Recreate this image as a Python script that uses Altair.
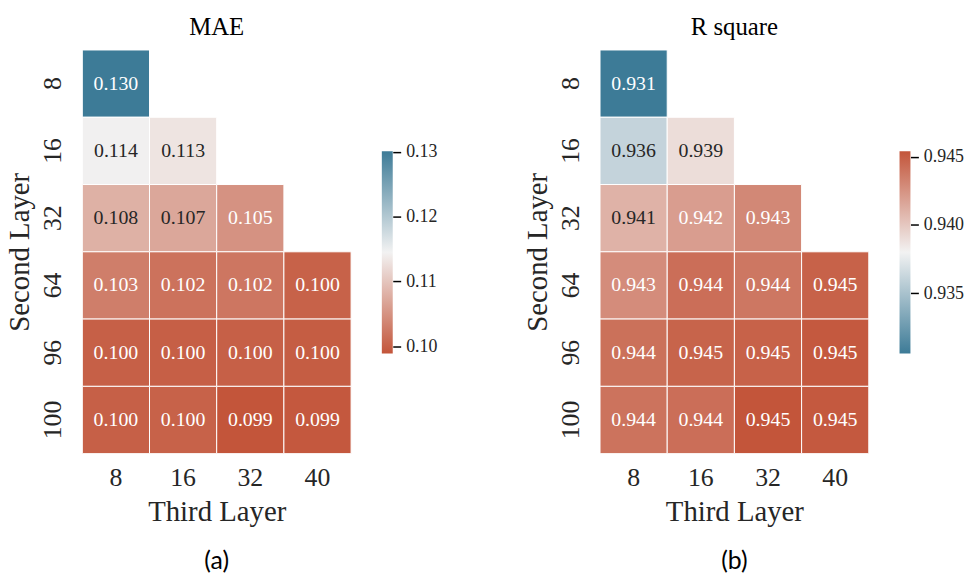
import altair as alt
import pandas as pd

# ---------------- data ----------------
third_layer = [8, 16, 32, 40]
second_layer = [8, 16, 32, 64, 96, 100]

mae_rows = [
    [0.1301],
    [0.1143, 0.1131],
    [0.1080, 0.1070, 0.1050],
    [0.1030, 0.1018, 0.1022, 0.1002],
    [0.1000, 0.0999, 0.1000, 0.0997],
    [0.1000, 0.1002, 0.0989, 0.0992],
]
r2_rows = [
    [0.9306],
    [0.9361, 0.9390],
    [0.9410, 0.9420, 0.9430],
    [0.9428, 0.9442, 0.9438, 0.9448],
    [0.9441, 0.9447, 0.9448, 0.9452],
    [0.9440, 0.9442, 0.9454, 0.9452],
]
mae_ticks = [0.10, 0.11, 0.12, 0.13]
r2_ticks = [0.935, 0.940, 0.945]
mae_extent = [0.0989, 0.1301]
r2_extent = [0.9306, 0.9454]
titles = ["MAE", "R square"]
panel_labels = ["(a)", "(b)"]
x_title = "Third Layer"
y_title = "Second Layer"

# ---------------- style ----------------
SERIF = "Liberation Serif"
SANS = "Lato"
BLUE = "#3d7b97"
RED = "#c3553a"
MID = "#f2f2f2"
DARK = "#262626"
W, H = 271, 407
CB_W = 11
CB_TOP, CB_BOTTOM = 102, 306


def table(rows, field):
    recs = []
    for s, row in zip(second_layer, rows):
        for t, v in zip(third_layer, row):
            recs.append({"second": s, "third": t, field: v})
    return pd.DataFrame(recs)


def heatmap(df, field, title, ext, colors, dark_lo, dark_hi, label):
    mid = (ext[0] + ext[1]) / 2
    cscale = alt.Scale(domain=ext, domainMid=mid, range=colors, interpolate="rgb",
                       nice=False, zero=False)
    base = alt.Chart(df).encode(
        x=alt.X("third:O", sort=third_layer, title=x_title,
                axis=alt.Axis(labelAngle=0, ticks=False, domain=False, labelPadding=11,
                              labelFont=SERIF, labelFontSize=26, labelColor=DARK,
                              titleFont=SERIF, titleFontSize=29, titleFontWeight="normal",
                              titleColor=DARK, titlePadding=7)),
        y=alt.Y("second:O", sort=second_layer, title=y_title,
                axis=alt.Axis(labelAngle=270, labelAlign="center", labelBaseline="alphabetic",
                              ticks=False, domain=False, labelPadding=22,
                              labelFont=SERIF, labelFontSize=26, labelColor=DARK,
                              titleFont=SERIF, titleFontSize=29, titleFontWeight="normal",
                              titleColor=DARK, titlePadding=5)),
    )
    rect = base.mark_rect(stroke="white", strokeWidth=1).encode(
        color=alt.Color(f"{field}:Q", scale=cscale, legend=None)
    )
    text = base.mark_text(font=SERIF, fontSize=20).encode(
        text=alt.Text(f"{field}:Q", format=".3f"),
        color=alt.condition(f"datum.{field} > {dark_lo} && datum.{field} < {dark_hi}",
                            alt.value(DARK), alt.value("white")),
    )
    cap = alt.Chart(pd.DataFrame({"t": [label]})).mark_text(
        font=SANS, fontSize=25, baseline="alphabetic", color="black"
    ).encode(text="t:N", x=alt.value(W / 2), y=alt.value(H + 116))
    return alt.layer(rect, text, cap).properties(
        width=W, height=H,
        title=alt.TitleParams(title, font=SERIF, fontSize=25, fontWeight="normal",
                              color="black", offset=10),
    )


def colorbar(ext, ticks, fmt, bottom_color, top_color):
    grad = alt.LinearGradient(
        gradient="linear", x1=0, x2=0, y1=1, y2=0,
        stops=[alt.GradientStop(offset=0, color=bottom_color),
               alt.GradientStop(offset=0.5, color=MID),
               alt.GradientStop(offset=1, color=top_color)],
    )
    df = pd.DataFrame({"lo": [ext[0]], "hi": [ext[1]]})
    return alt.Chart(df).mark_rect(color=grad).encode(
        y=alt.Y("lo:Q", title=None,
                scale=alt.Scale(domain=ext, range=[CB_BOTTOM, CB_TOP], nice=False, zero=False),
                axis=alt.Axis(orient="right", values=ticks, format=fmt, grid=False, domain=False,
                              tickColor="black", tickSize=8, tickWidth=1.5, labelPadding=5,
                              labelFont=SERIF, labelFontSize=18, labelColor=DARK)),
        y2="hi:Q",
    ).properties(width=CB_W, height=H)


mae_df = table(mae_rows, "mae")
r2_df = table(r2_rows, "r2")

left = alt.hconcat(
    heatmap(mae_df, "mae", titles[0], mae_extent, [RED, MID, BLUE], 0.1055, 0.1205, panel_labels[0]),
    colorbar(mae_extent, mae_ticks, ".2f", RED, BLUE),
    spacing=30,
).resolve_scale(color="independent", y="independent")
right = alt.hconcat(
    heatmap(r2_df, "r2", titles[1], r2_extent, [BLUE, MID, RED], 0.9345, 0.9415, panel_labels[1]),
    colorbar(r2_extent, r2_ticks, ".3f", BLUE, RED),
    spacing=30,
).resolve_scale(color="independent", y="independent")

chart = alt.hconcat(left, right, spacing=86).resolve_scale(
    color="independent", x="independent", y="independent"
).properties(
    padding={"left": 5, "top": 12, "right": 0, "bottom": 0},
    background="white",
).configure_view(stroke=None)

chart.save("out.html", embed_options={"renderer": "svg", "actions": False})
